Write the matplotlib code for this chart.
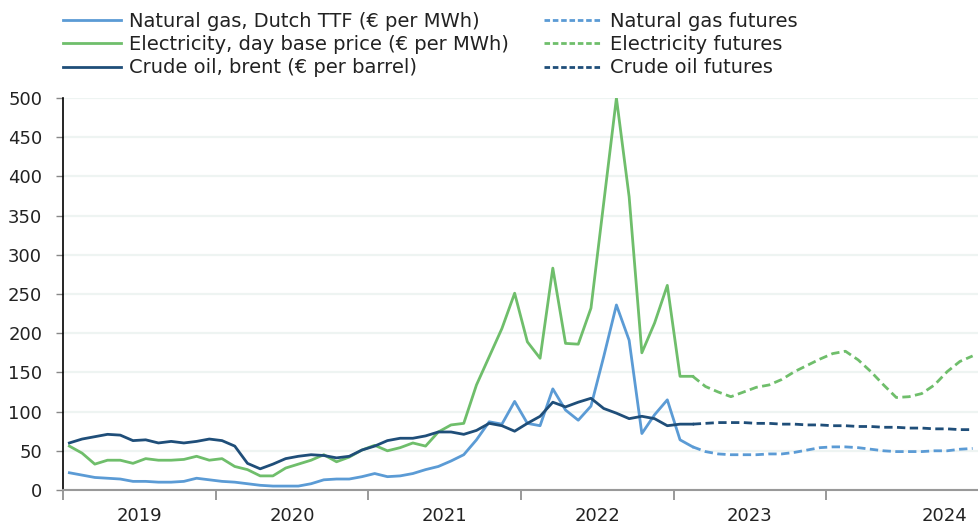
import numpy as np
import matplotlib.pyplot as plt
from matplotlib.lines import Line2D

# monthly observations, Jan 2019 onwards (index 0 = Jan 2019)
gas = [22, 19, 16, 15, 14, 11, 11, 10, 10, 11, 15, 13, 11, 10, 8, 6, 5, 5, 5, 8,
       13, 14, 14, 17, 21, 17, 18, 21, 26, 30, 37, 45, 64, 87, 84, 113, 85, 82,
       129, 102, 89, 107, 170, 236, 191, 72, 96, 115, 64, 55]
elec = [56, 47, 33, 38, 38, 34, 40, 38, 38, 39, 43, 38, 40, 30, 26, 18, 18, 28,
        33, 38, 45, 36, 42, 51, 57, 50, 54, 60, 56, 74, 83, 85, 134, 170, 206, 251,
        189, 168, 283, 187, 186, 232, 366, 500, 374, 175, 213, 261, 145, 145]
oil = [60, 65, 68, 71, 70, 63, 64, 60, 62, 60, 62, 65, 63, 56, 34, 27, 33, 40,
       43, 45, 44, 41, 43, 51, 56, 63, 66, 66, 69, 74, 74, 71, 76, 85, 82, 75,
       85, 94, 112, 106, 112, 117, 104, 98, 91, 94, 91, 82, 84, 84]

# futures, starting at the last observed month (index 49)
fut_start = 49
gas_fut = [55, 49, 46, 45, 45, 45, 46, 46, 48, 51, 54, 55, 55, 54, 52, 50, 49,
           49, 49, 50, 50, 52, 53]
elec_fut = [145, 132, 125, 119, 125, 131, 134, 141, 151, 159, 167, 174, 177, 166,
            151, 134, 118, 119, 123, 134, 151, 164, 171]
oil_fut = [84, 85, 86, 86, 86, 85, 85, 84, 84, 83, 83, 82, 82, 81, 81, 80, 80,
           79, 79, 78, 78, 77, 77]

years = ['2019', '2020', '2021', '2022', '2023', '2024']

c_gas = '#5B9BD5'
c_elec = '#6FBE6B'
c_oil = '#1F4E79'

plt.rcParams['font.family'] = ['DejaVu Sans']

fig = plt.figure(figsize=(9.79, 5.27), dpi=100)
ax = fig.add_axes([63/979, 1 - 490/527, 1 - 63/979, (490 - 98)/527])

x_hist = np.arange(len(gas))
x_fut = np.arange(fut_start, fut_start + len(gas_fut))

lw = 2.0
dash = (0, (3, 1.6))
ax.plot(x_hist, gas, color=c_gas, lw=lw, zorder=3)
ax.plot(x_hist, elec, color=c_elec, lw=lw, zorder=2)
ax.plot(x_hist, oil, color=c_oil, lw=lw, zorder=4)
ax.plot(x_fut, gas_fut, color=c_gas, lw=lw, ls=dash, zorder=3)
ax.plot(x_fut, elec_fut, color=c_elec, lw=lw, ls=dash, zorder=2)
ax.plot(x_fut, oil_fut, color=c_oil, lw=lw, ls=dash, zorder=4)

ax.set_ylim(0, 500)
ax.set_xlim(-0.5, 70.95)
ax.set_yticks(np.arange(0, 501, 50))
ax.yaxis.grid(True, color='#EEF4F2', lw=1.6)
ax.set_axisbelow(True)

# year boundaries as major ticks, year labels centred as minor ticks
ax.set_xticks(np.arange(-0.5, 72, 12))
ax.set_xticklabels([])
ax.set_xticks([5.5, 17.5, 29.5, 41.5, 53.5, 68.8], minor=True)
ax.set_xticklabels(years, minor=True)
ax.tick_params(axis='x', which='major', length=7, width=1.2, color='#888888')
ax.tick_params(axis='x', which='minor', length=0, pad=12, labelsize=13,
               labelcolor='#222222')
ax.tick_params(axis='y', length=5, width=1.0, color='#888888', labelsize=13,
               labelcolor='#222222', pad=10)

for s in ['top', 'right']:
    ax.spines[s].set_visible(False)
ax.spines['left'].set_color('black')
ax.spines['left'].set_linewidth(1.2)
ax.spines['bottom'].set_color('#999999')
ax.spines['bottom'].set_linewidth(1.5)

handles = [
    Line2D([], [], color=c_gas, lw=lw),
    Line2D([], [], color=c_elec, lw=lw),
    Line2D([], [], color=c_oil, lw=lw),
    Line2D([], [], color=c_gas, lw=lw, ls=(0, (2, 1))),
    Line2D([], [], color=c_elec, lw=lw, ls=(0, (2, 1))),
    Line2D([], [], color=c_oil, lw=lw, ls=(0, (2, 1))),
]
labels = ['Natural gas, Dutch TTF (€ per MWh)',
          'Electricity, day base price (€ per MWh)',
          'Crude oil, brent (€ per barrel)',
          'Natural gas futures', 'Electricity futures', 'Crude oil futures']
fig.legend(handles, labels, ncol=2, loc='upper left',
           bbox_to_anchor=(55/979, 1 - 4/527), frameon=False, fontsize=14,
           handlelength=3.0, handletextpad=0.4, columnspacing=1.8,
           labelspacing=0.22, borderaxespad=0, labelcolor='#222222')

fig.savefig('out.png', dpi=100)
